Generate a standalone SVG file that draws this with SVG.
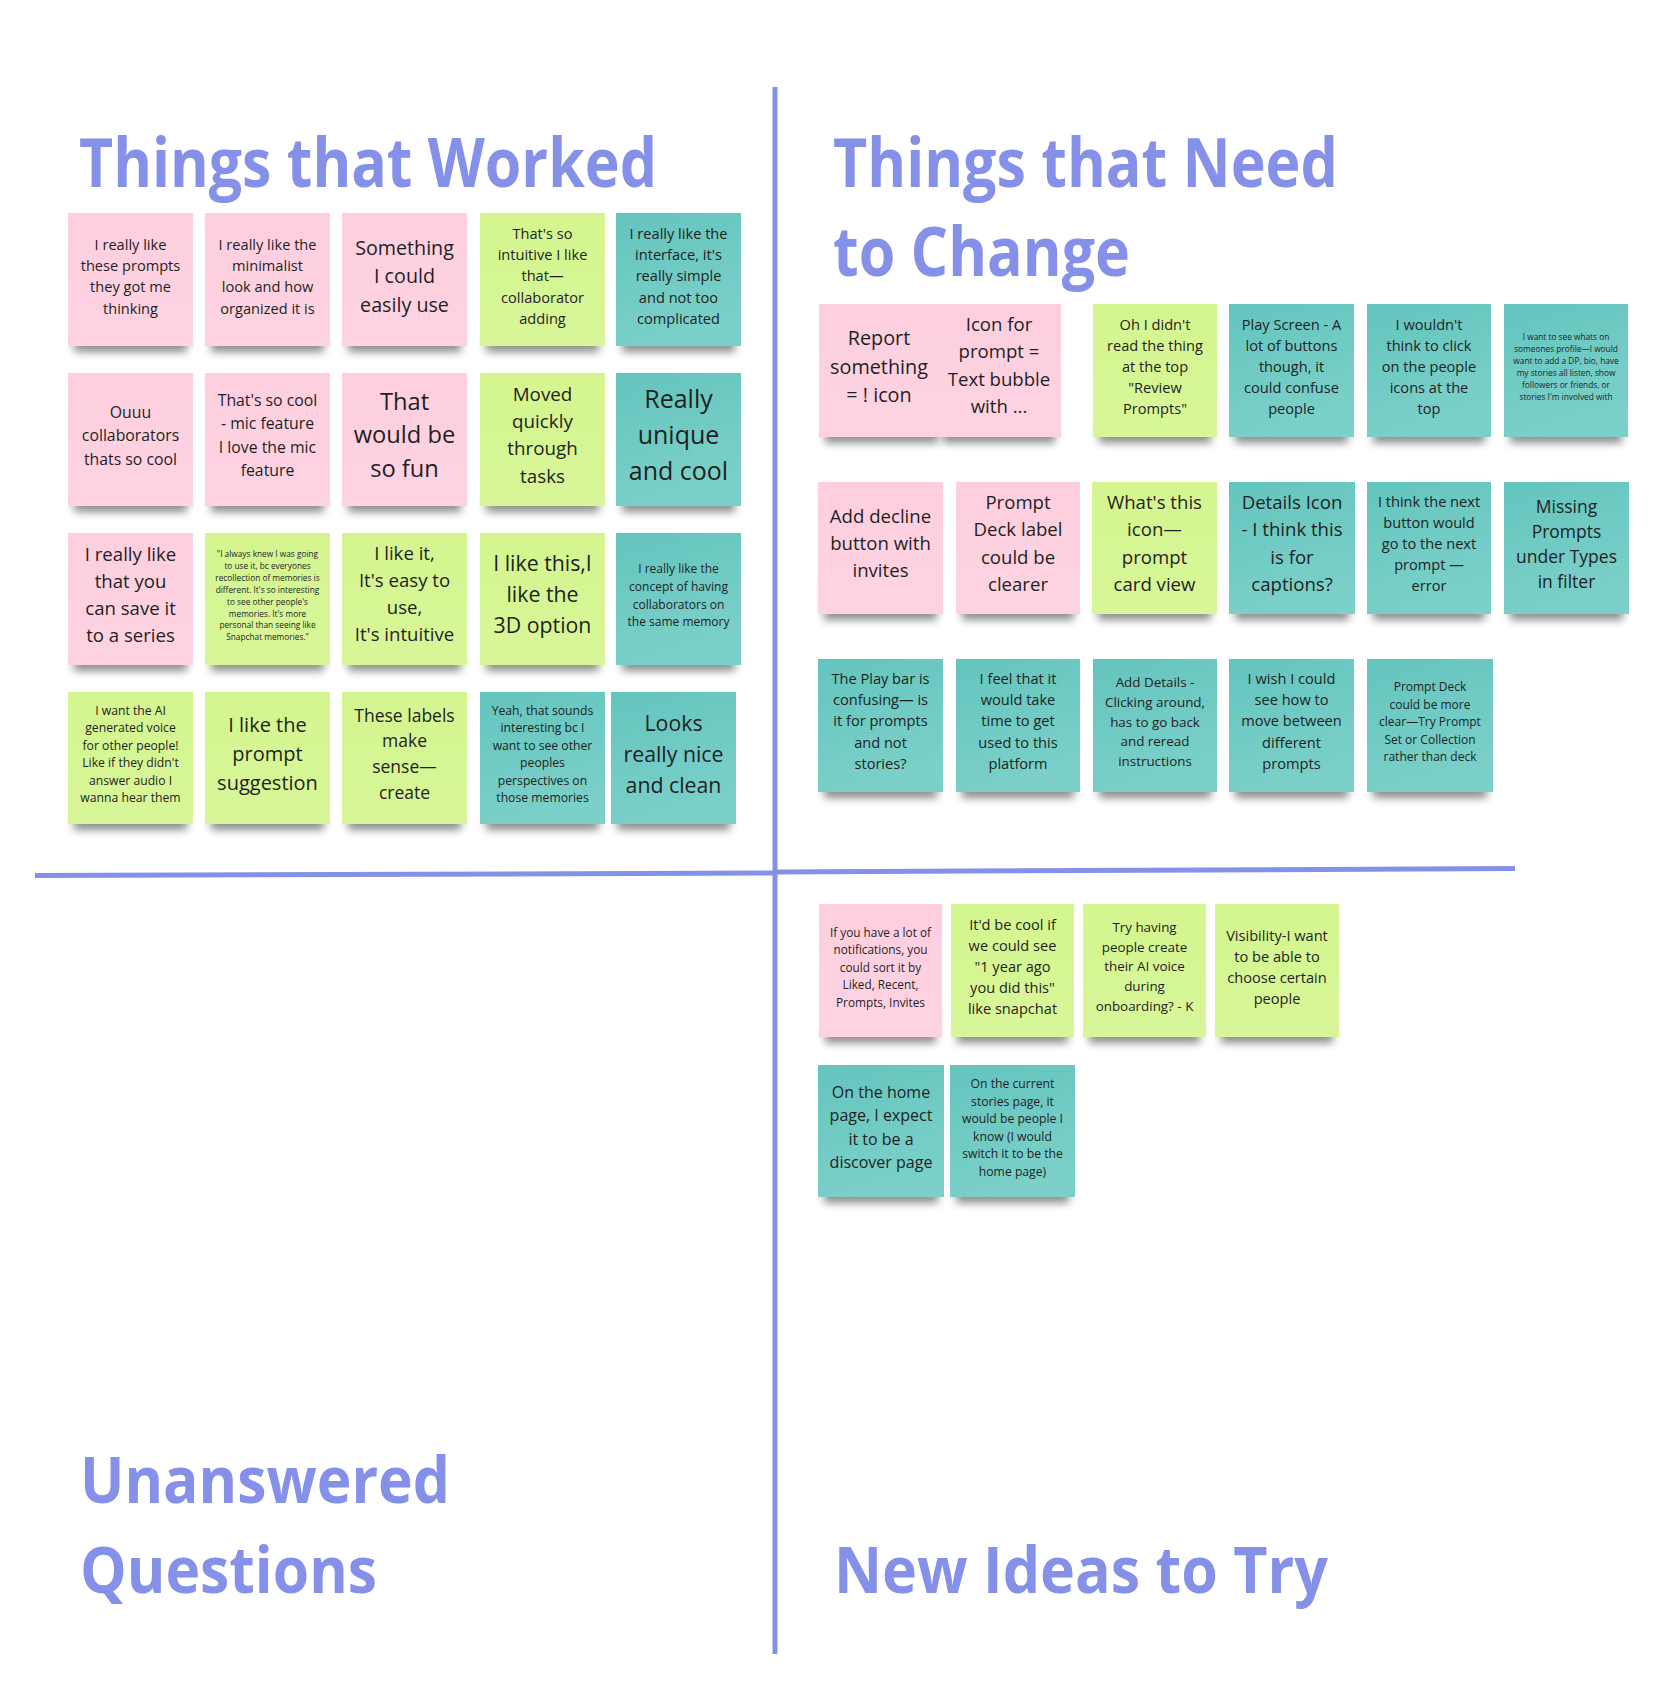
<svg xmlns="http://www.w3.org/2000/svg" width="1666" height="1699" viewBox="0 0 1666 1699">
  <defs>
    <filter id="soft" x="-20%" y="-100%" width="140%" height="300%">
      <feGaussianBlur stdDeviation="4"/>
    </filter>
    <linearGradient id="gPink" x1="0" y1="0" x2="0" y2="1">
      <stop offset="0" stop-color="#fdcfdf"/>
      <stop offset="1" stop-color="#fdd3e2"/>
    </linearGradient>
    <linearGradient id="gGreen" x1="0" y1="0" x2="0" y2="1">
      <stop offset="0" stop-color="#d4f58f"/>
      <stop offset="1" stop-color="#d8f698"/>
    </linearGradient>
    <linearGradient id="gTeal" x1="0" y1="0" x2="0.3" y2="1">
      <stop offset="0" stop-color="#63c5be"/>
      <stop offset="1" stop-color="#7bd0c9"/>
    </linearGradient>
    <style>
      .title { font-family: "Open Sans", "Liberation Sans", sans-serif; font-weight: 700; fill: #8590e8; }
      .rule { stroke: #8590e8; stroke-width: 5; fill: none; }
      .sh { fill: #000; opacity: 0.45; filter: url(#soft); }
      .pink { fill: url(#gPink); }
      .green { fill: url(#gGreen); }
      .teal { fill: url(#gTeal); }
      .t { font-family: "Open Sans", "Liberation Sans", sans-serif; fill: #1f1f1f; text-anchor: middle; }
    </style>
  </defs>

  <rect width="1666" height="1699" fill="#ffffff"/>

  <!-- quadrant dividers -->
  <g id="connectors">
    <line class="rule" x1="775" y1="87" x2="775" y2="1654"/>
    <line class="rule" x1="35" y1="875.5" x2="775" y2="873"/>
    <line class="rule" x1="775" y1="872" x2="1515" y2="868.5"/>
  </g>

  <!-- section headings -->
  <g id="headings">
    <text class="title" x="79" y="187" font-size="68" textLength="578" lengthAdjust="spacingAndGlyphs">Things that Worked</text>
    <text class="title" x="833" y="187" font-size="68" textLength="505" lengthAdjust="spacingAndGlyphs">Things that Need</text>
    <text class="title" x="833" y="276" font-size="68" textLength="297" lengthAdjust="spacingAndGlyphs">to Change</text>
    <text class="title" x="80" y="1503" font-size="65" textLength="370" lengthAdjust="spacingAndGlyphs">Unanswered</text>
    <text class="title" x="80" y="1593" font-size="65" textLength="297" lengthAdjust="spacingAndGlyphs">Questions</text>
    <text class="title" x="834" y="1593" font-size="65" textLength="494" lengthAdjust="spacingAndGlyphs">New Ideas to Try</text>
  </g>

  <!-- Things that Worked: row 1 -->
  <g id="w1">
    <rect class="sh" x="74" y="338" width="113" height="14"/>
    <rect class="pink" x="68" y="213" width="125" height="133"/>
    <text class="t" x="130.5" y="250" font-size="14.6"><tspan x="130.5">I really like</tspan><tspan x="130.5" dy="21.2">these prompts</tspan><tspan x="130.5" dy="21.2">they got me</tspan><tspan x="130.5" dy="21.2">thinking</tspan></text>
  </g>
  <g id="w2">
    <rect class="sh" x="211" y="338" width="113" height="14"/>
    <rect class="pink" x="205" y="213" width="125" height="133"/>
    <text class="t" x="267.5" y="250" font-size="14.6"><tspan x="267.5">I really like the</tspan><tspan x="267.5" dy="21.2">minimalist</tspan><tspan x="267.5" dy="21.2">look and how</tspan><tspan x="267.5" dy="21.2">organized it is</tspan></text>
  </g>
  <g id="w3">
    <rect class="sh" x="348" y="338" width="113" height="14"/>
    <rect class="pink" x="342" y="213" width="125" height="133"/>
    <text class="t" x="404.5" y="254.8" font-size="19.7"><tspan x="404.5">Something</tspan><tspan x="404.5" dy="28.5">I could</tspan><tspan x="404.5" dy="28.5">easily use</tspan></text>
  </g>
  <g id="w4">
    <rect class="sh" x="486" y="338" width="113" height="14"/>
    <rect class="green" x="480" y="213" width="125" height="133"/>
    <text class="t" x="542.5" y="239" font-size="14.6"><tspan x="542.5">That's so</tspan><tspan x="542.5" dy="21.2">intuitive I like</tspan><tspan x="542.5" dy="21.2">that—</tspan><tspan x="542.5" dy="21.2">collaborator</tspan><tspan x="542.5" dy="21.2">adding</tspan></text>
  </g>
  <g id="w5">
    <rect class="sh" x="622" y="338" width="113" height="14"/>
    <rect class="teal" x="616" y="213" width="125" height="133"/>
    <text class="t" x="678.5" y="239" font-size="14.6"><tspan x="678.5">I really like the</tspan><tspan x="678.5" dy="21.2">interface, it's</tspan><tspan x="678.5" dy="21.2">really simple</tspan><tspan x="678.5" dy="21.2">and not too</tspan><tspan x="678.5" dy="21.2">complicated</tspan></text>
  </g>

  <!-- Things that Worked: row 2 -->
  <g id="w6">
    <rect class="sh" x="74" y="498" width="113" height="14"/>
    <rect class="pink" x="68" y="373" width="125" height="133"/>
    <text class="t" x="130.5" y="417.5" font-size="15.8"><tspan x="130.5">Ouuu</tspan><tspan x="130.5" dy="23.5">collaborators</tspan><tspan x="130.5" dy="23.5">thats so cool</tspan></text>
  </g>
  <g id="w7">
    <rect class="sh" x="211" y="498" width="113" height="14"/>
    <rect class="pink" x="205" y="373" width="125" height="133"/>
    <text class="t" x="267.5" y="406.2" font-size="15.8"><tspan x="267.5">That's so cool</tspan><tspan x="267.5" dy="23.2">- mic feature</tspan><tspan x="267.5" dy="23.2">I love the mic</tspan><tspan x="267.5" dy="23.2">feature</tspan></text>
  </g>
  <g id="w8">
    <rect class="sh" x="348" y="498" width="113" height="14"/>
    <rect class="pink" x="342" y="373" width="125" height="133"/>
    <text class="t" x="404.5" y="409.5" font-size="23.7"><tspan x="404.5">That</tspan><tspan x="404.5" dy="33.8">would be</tspan><tspan x="404.5" dy="33.8">so fun</tspan></text>
  </g>
  <g id="w9">
    <rect class="sh" x="486" y="498" width="113" height="14"/>
    <rect class="green" x="480" y="373" width="125" height="133"/>
    <text class="t" x="542.5" y="400.5" font-size="18.8"><tspan x="542.5">Moved</tspan><tspan x="542.5" dy="27.4">quickly</tspan><tspan x="542.5" dy="27.4">through</tspan><tspan x="542.5" dy="27.4">tasks</tspan></text>
  </g>
  <g id="w10">
    <rect class="sh" x="622" y="498" width="113" height="14"/>
    <rect class="teal" x="616" y="373" width="125" height="133"/>
    <text class="t" x="678.5" y="407.5" font-size="25"><tspan x="678.5">Really</tspan><tspan x="678.5" dy="36.2">unique</tspan><tspan x="678.5" dy="36.2">and cool</tspan></text>
  </g>

  <!-- Things that Worked: row 3 -->
  <g id="w11">
    <rect class="sh" x="74" y="657" width="113" height="14"/>
    <rect class="pink" x="68" y="533" width="125" height="132"/>
    <text class="t" x="130.5" y="561" font-size="18.6"><tspan x="130.5">I really like</tspan><tspan x="130.5" dy="27">that you</tspan><tspan x="130.5" dy="27">can save it</tspan><tspan x="130.5" dy="27">to a series</tspan></text>
  </g>
  <g id="w12">
    <rect class="sh" x="211" y="657" width="113" height="14"/>
    <rect class="green" x="205" y="533" width="125" height="132"/>
    <text class="t" x="267.5" y="557" font-size="8.3"><tspan x="267.5">"I always knew I was going</tspan><tspan x="267.5" dy="11.9">to use it, bc everyones</tspan><tspan x="267.5" dy="11.9">recollection of memories is</tspan><tspan x="267.5" dy="11.9">different. It's so interesting</tspan><tspan x="267.5" dy="11.9">to see other people's</tspan><tspan x="267.5" dy="11.9">memories. It's more</tspan><tspan x="267.5" dy="11.9">personal than seeing like</tspan><tspan x="267.5" dy="11.9">Snapchat memories."</tspan></text>
  </g>
  <g id="w13">
    <rect class="sh" x="348" y="657" width="113" height="14"/>
    <rect class="green" x="342" y="533" width="125" height="132"/>
    <text class="t" x="404.5" y="559.5" font-size="18.6"><tspan x="404.5">I like it,</tspan><tspan x="404.5" dy="27.3">It's easy to</tspan><tspan x="404.5" dy="27.3">use,</tspan><tspan x="404.5" dy="27.3">It's intuitive</tspan></text>
  </g>
  <g id="w14">
    <rect class="sh" x="486" y="657" width="113" height="14"/>
    <rect class="green" x="480" y="533" width="125" height="132"/>
    <text class="t" x="542.5" y="571.3" font-size="21.3"><tspan x="542.5">I like this,I</tspan><tspan x="542.5" dy="30.8">like the</tspan><tspan x="542.5" dy="30.8">3D option</tspan></text>
  </g>
  <g id="w15">
    <rect class="sh" x="622" y="657" width="113" height="14"/>
    <rect class="teal" x="616" y="533" width="125" height="132"/>
    <text class="t" x="678.5" y="573" font-size="12"><tspan x="678.5">I really like the</tspan><tspan x="678.5" dy="17.8">concept of having</tspan><tspan x="678.5" dy="17.8">collaborators on</tspan><tspan x="678.5" dy="17.8">the same memory</tspan></text>
  </g>

  <!-- Things that Worked: row 4 -->
  <g id="w16">
    <rect class="sh" x="74" y="816" width="113" height="14"/>
    <rect class="green" x="68" y="692" width="125" height="132"/>
    <text class="t" x="130.5" y="714.7" font-size="12.2"><tspan x="130.5">I want the AI</tspan><tspan x="130.5" dy="17.5">generated voice</tspan><tspan x="130.5" dy="17.5">for other people!</tspan><tspan x="130.5" dy="17.5">Like if they didn't</tspan><tspan x="130.5" dy="17.5">answer audio I</tspan><tspan x="130.5" dy="17.5">wanna hear them</tspan></text>
  </g>
  <g id="w17">
    <rect class="sh" x="211" y="816" width="113" height="14"/>
    <rect class="green" x="205" y="692" width="125" height="132"/>
    <text class="t" x="267.5" y="731.6" font-size="20"><tspan x="267.5">I like the</tspan><tspan x="267.5" dy="29.2">prompt</tspan><tspan x="267.5" dy="29.2">suggestion</tspan></text>
  </g>
  <g id="w18">
    <rect class="sh" x="348" y="816" width="113" height="14"/>
    <rect class="green" x="342" y="692" width="125" height="132"/>
    <text class="t" x="404.5" y="721.8" font-size="17.5"><tspan x="404.5">These labels</tspan><tspan x="404.5" dy="25.6">make</tspan><tspan x="404.5" dy="25.6">sense—</tspan><tspan x="404.5" dy="25.6">create</tspan></text>
  </g>
  <g id="w19">
    <rect class="sh" x="486" y="816" width="113" height="14"/>
    <rect class="teal" x="480" y="692" width="125" height="132"/>
    <text class="t" x="542.5" y="714.7" font-size="12.2"><tspan x="542.5">Yeah, that sounds</tspan><tspan x="542.5" dy="17.5">interesting bc I</tspan><tspan x="542.5" dy="17.5">want to see other</tspan><tspan x="542.5" dy="17.5">peoples</tspan><tspan x="542.5" dy="17.5">perspectives on</tspan><tspan x="542.5" dy="17.5">those memories</tspan></text>
  </g>
  <g id="w20">
    <rect class="sh" x="617" y="816" width="113" height="14"/>
    <rect class="teal" x="611" y="692" width="125" height="132"/>
    <text class="t" x="673.5" y="731" font-size="21.3"><tspan x="673.5">Looks</tspan><tspan x="673.5" dy="31">really nice</tspan><tspan x="673.5" dy="31">and clean</tspan></text>
  </g>

  <!-- Things that Need to Change: row 1 -->
  <g id="c1">
    <rect class="sh" x="825" y="429" width="113" height="14"/>
    <rect class="pink" x="819" y="304" width="125" height="133"/>
    <text class="t" x="879" y="344.8" font-size="19.8"><tspan x="879">Report</tspan><tspan x="879" dy="28.8">something</tspan><tspan x="879" dy="28.8">= ! icon</tspan></text>
  </g>
  <g id="c2">
    <rect class="sh" x="943" y="429" width="112" height="14"/>
    <rect class="pink" x="937" y="304" width="124" height="133"/>
    <text class="t" x="999" y="331" font-size="18.6"><tspan x="999">Icon for</tspan><tspan x="999" dy="27.4">prompt =</tspan><tspan x="999" dy="27.4">Text bubble</tspan><tspan x="999" dy="27.4">with ...</tspan></text>
  </g>
  <g id="c3">
    <rect class="sh" x="1099" y="429" width="112" height="14"/>
    <rect class="green" x="1093" y="304" width="124" height="133"/>
    <text class="t" x="1155" y="329.8" font-size="14.6"><tspan x="1155">Oh I didn't</tspan><tspan x="1155" dy="21">read the thing</tspan><tspan x="1155" dy="21">at the top</tspan><tspan x="1155" dy="21">"Review</tspan><tspan x="1155" dy="21">Prompts"</tspan></text>
  </g>
  <g id="c4">
    <rect class="sh" x="1235" y="429" width="113" height="14"/>
    <rect class="teal" x="1229" y="304" width="125" height="133"/>
    <text class="t" x="1291.5" y="329.8" font-size="14.6"><tspan x="1291.5">Play Screen - A</tspan><tspan x="1291.5" dy="21">lot of buttons</tspan><tspan x="1291.5" dy="21">though, it</tspan><tspan x="1291.5" dy="21">could confuse</tspan><tspan x="1291.5" dy="21">people</tspan></text>
  </g>
  <g id="c5">
    <rect class="sh" x="1373" y="429" width="112" height="14"/>
    <rect class="teal" x="1367" y="304" width="124" height="133"/>
    <text class="t" x="1429" y="329.8" font-size="14.6"><tspan x="1429">I wouldn't</tspan><tspan x="1429" dy="21">think to click</tspan><tspan x="1429" dy="21">on the people</tspan><tspan x="1429" dy="21">icons at the</tspan><tspan x="1429" dy="21">top</tspan></text>
  </g>
  <g id="c6">
    <rect class="sh" x="1510" y="429" width="112" height="14"/>
    <rect class="teal" x="1504" y="304" width="124" height="133"/>
    <text class="t" x="1566" y="340" font-size="8.3"><tspan x="1566">I want to see whats on</tspan><tspan x="1566" dy="12">someones profile—I would</tspan><tspan x="1566" dy="12">want to add a DP, bio, have</tspan><tspan x="1566" dy="12">my stories all listen, show</tspan><tspan x="1566" dy="12">followers or friends, or</tspan><tspan x="1566" dy="12">stories I'm involved with</tspan></text>
  </g>

  <!-- Things that Need to Change: row 2 -->
  <g id="c7">
    <rect class="sh" x="824" y="606" width="113" height="14"/>
    <rect class="pink" x="818" y="482" width="125" height="132"/>
    <text class="t" x="880.5" y="522.8" font-size="18.6"><tspan x="880.5">Add decline</tspan><tspan x="880.5" dy="27">button with</tspan><tspan x="880.5" dy="27">invites</tspan></text>
  </g>
  <g id="c8">
    <rect class="sh" x="962" y="606" width="112" height="14"/>
    <rect class="pink" x="956" y="482" width="124" height="132"/>
    <text class="t" x="1018" y="508.8" font-size="18.6"><tspan x="1018">Prompt</tspan><tspan x="1018" dy="27.4">Deck label</tspan><tspan x="1018" dy="27.4">could be</tspan><tspan x="1018" dy="27.4">clearer</tspan></text>
  </g>
  <g id="c9">
    <rect class="sh" x="1098" y="606" width="113" height="14"/>
    <rect class="green" x="1092" y="482" width="125" height="132"/>
    <text class="t" x="1154.5" y="508.8" font-size="18.6"><tspan x="1154.5">What's this</tspan><tspan x="1154.5" dy="27.4">icon—</tspan><tspan x="1154.5" dy="27.4">prompt</tspan><tspan x="1154.5" dy="27.4">card view</tspan></text>
  </g>
  <g id="c10">
    <rect class="sh" x="1235" y="606" width="114" height="14"/>
    <rect class="teal" x="1229" y="482" width="126" height="132"/>
    <text class="t" x="1292" y="508.8" font-size="18.6"><tspan x="1292">Details Icon</tspan><tspan x="1292" dy="27.4">- I think this</tspan><tspan x="1292" dy="27.4">is for</tspan><tspan x="1292" dy="27.4">captions?</tspan></text>
  </g>
  <g id="c11">
    <rect class="sh" x="1373" y="606" width="112" height="14"/>
    <rect class="teal" x="1367" y="482" width="124" height="132"/>
    <text class="t" x="1429" y="507" font-size="14.6"><tspan x="1429">I think the next</tspan><tspan x="1429" dy="21.1">button would</tspan><tspan x="1429" dy="21.1">go to the next</tspan><tspan x="1429" dy="21.1">prompt —</tspan><tspan x="1429" dy="21.1">error</tspan></text>
  </g>
  <g id="c12">
    <rect class="sh" x="1510" y="606" width="113" height="14"/>
    <rect class="teal" x="1504" y="482" width="125" height="132"/>
    <text class="t" x="1566.5" y="512.5" font-size="17.5"><tspan x="1566.5">Missing</tspan><tspan x="1566.5" dy="25">Prompts</tspan><tspan x="1566.5" dy="25">under Types</tspan><tspan x="1566.5" dy="25">in filter</tspan></text>
  </g>

  <!-- Things that Need to Change: row 3 -->
  <g id="c13">
    <rect class="sh" x="824" y="784" width="113" height="14"/>
    <rect class="teal" x="818" y="659" width="125" height="133"/>
    <text class="t" x="880.5" y="684" font-size="14.6"><tspan x="880.5">The Play bar is</tspan><tspan x="880.5" dy="21.2">confusing— is</tspan><tspan x="880.5" dy="21.2">it for prompts</tspan><tspan x="880.5" dy="21.2">and not</tspan><tspan x="880.5" dy="21.2">stories?</tspan></text>
  </g>
  <g id="c14">
    <rect class="sh" x="962" y="784" width="112" height="14"/>
    <rect class="teal" x="956" y="659" width="124" height="133"/>
    <text class="t" x="1018" y="684" font-size="14.6"><tspan x="1018">I feel that it</tspan><tspan x="1018" dy="21.2">would take</tspan><tspan x="1018" dy="21.2">time to get</tspan><tspan x="1018" dy="21.2">used to this</tspan><tspan x="1018" dy="21.2">platform</tspan></text>
  </g>
  <g id="c15">
    <rect class="sh" x="1099" y="784" width="112" height="14"/>
    <rect class="teal" x="1093" y="659" width="124" height="133"/>
    <text class="t" x="1155" y="687" font-size="13.4"><tspan x="1155">Add Details -</tspan><tspan x="1155" dy="19.8">Clicking around,</tspan><tspan x="1155" dy="19.8">has to go back</tspan><tspan x="1155" dy="19.8">and reread</tspan><tspan x="1155" dy="19.8">instructions</tspan></text>
  </g>
  <g id="c16">
    <rect class="sh" x="1235" y="784" width="113" height="14"/>
    <rect class="teal" x="1229" y="659" width="125" height="133"/>
    <text class="t" x="1291.5" y="684" font-size="14.6"><tspan x="1291.5">I wish I could</tspan><tspan x="1291.5" dy="21.2">see how to</tspan><tspan x="1291.5" dy="21.2">move between</tspan><tspan x="1291.5" dy="21.2">different</tspan><tspan x="1291.5" dy="21.2">prompts</tspan></text>
  </g>
  <g id="c17">
    <rect class="sh" x="1373" y="784" width="114" height="14"/>
    <rect class="teal" x="1367" y="659" width="126" height="133"/>
    <text class="t" x="1430" y="691.3" font-size="12"><tspan x="1430">Prompt Deck</tspan><tspan x="1430" dy="17.5">could be more</tspan><tspan x="1430" dy="17.5">clear—Try Prompt</tspan><tspan x="1430" dy="17.5">Set or Collection</tspan><tspan x="1430" dy="17.5">rather than deck</tspan></text>
  </g>

  <!-- New Ideas to Try: row 1 -->
  <g id="n1">
    <rect class="sh" x="825" y="1029" width="111" height="14"/>
    <rect class="pink" x="819" y="904" width="123" height="133"/>
    <text class="t" x="880.5" y="936.6" font-size="11.8"><tspan x="880.5">If you have a lot of</tspan><tspan x="880.5" dy="17.5">notifications, you</tspan><tspan x="880.5" dy="17.5">could sort it by</tspan><tspan x="880.5" dy="17.5">Liked, Recent,</tspan><tspan x="880.5" dy="17.5">Prompts, Invites</tspan></text>
  </g>
  <g id="n2">
    <rect class="sh" x="957" y="1029" width="111" height="14"/>
    <rect class="green" x="951" y="904" width="123" height="133"/>
    <text class="t" x="1012.5" y="929.8" font-size="14.6"><tspan x="1012.5">It'd be cool if</tspan><tspan x="1012.5" dy="21">we could see</tspan><tspan x="1012.5" dy="21">"1 year ago</tspan><tspan x="1012.5" dy="21">you did this"</tspan><tspan x="1012.5" dy="21">like snapchat</tspan></text>
  </g>
  <g id="n3">
    <rect class="sh" x="1089" y="1029" width="111" height="14"/>
    <rect class="green" x="1083" y="904" width="123" height="133"/>
    <text class="t" x="1144.5" y="932" font-size="13.4"><tspan x="1144.5">Try having</tspan><tspan x="1144.5" dy="19.7">people create</tspan><tspan x="1144.5" dy="19.7">their AI voice</tspan><tspan x="1144.5" dy="19.7">during</tspan><tspan x="1144.5" dy="19.7">onboarding? - K</tspan></text>
  </g>
  <g id="n4">
    <rect class="sh" x="1221" y="1029" width="112" height="14"/>
    <rect class="green" x="1215" y="904" width="124" height="133"/>
    <text class="t" x="1277" y="940.5" font-size="14.6"><tspan x="1277">Visibility-I want</tspan><tspan x="1277" dy="21">to be able to</tspan><tspan x="1277" dy="21">choose certain</tspan><tspan x="1277" dy="21">people</tspan></text>
  </g>

  <!-- New Ideas to Try: row 2 -->
  <g id="n5">
    <rect class="sh" x="824" y="1189" width="114" height="14"/>
    <rect class="teal" x="818" y="1065" width="126" height="132"/>
    <text class="t" x="881" y="1098" font-size="16"><tspan x="881">On the home</tspan><tspan x="881" dy="23.3">page, I expect</tspan><tspan x="881" dy="23.3">it to be a</tspan><tspan x="881" dy="23.3">discover page</tspan></text>
  </g>
  <g id="n6">
    <rect class="sh" x="956" y="1189" width="113" height="14"/>
    <rect class="teal" x="950" y="1065" width="125" height="132"/>
    <text class="t" x="1012.5" y="1088" font-size="12.2"><tspan x="1012.5">On the current</tspan><tspan x="1012.5" dy="17.5">stories page, it</tspan><tspan x="1012.5" dy="17.5">would be people I</tspan><tspan x="1012.5" dy="17.5">know (I would</tspan><tspan x="1012.5" dy="17.5">switch it to be the</tspan><tspan x="1012.5" dy="17.5">home page)</tspan></text>
  </g>
</svg>
